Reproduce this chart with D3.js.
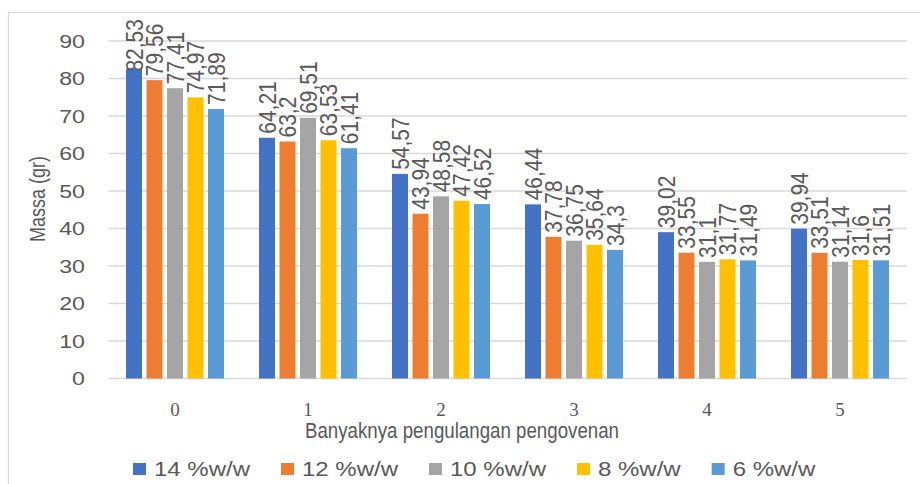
<!DOCTYPE html>
<html>
<head>
<meta charset="utf-8">
<script src="https://cdn.jsdelivr.net/npm/d3@7/dist/d3.min.js"></script>
<style>
  html, body { margin: 0; padding: 0; background: #fff; }
  svg { display: block; }
</style>
</head>
<body>
<svg id="chart" width="920" height="484"></svg>
<script>
// Categories: number of repeated oven cycles
const categories = ["0", "1", "2", "3", "4", "5"];
// Series: concentration
const seriesNames = ["14 %w/w", "12 %w/w", "10 %w/w", "8 %w/w", "6 %w/w"];
const seriesColors = ["#4472C4", "#ED7D31", "#A5A5A5", "#FFC000", "#5B9BD5"];
// Mass (gr) per series, one value per category
const s14 = [82.53, 64.21, 54.57, 46.44, 39.02, 39.94];
const s12 = [79.56, 63.2, 43.94, 37.78, 33.55, 33.51];
const s10 = [77.41, 69.51, 48.58, 36.75, 31.1, 31.14];
const s8  = [74.97, 63.53, 47.42, 35.64, 31.77, 31.6];
const s6  = [71.89, 61.41, 46.52, 34.3, 31.49, 31.51];
const seriesValues = [s14, s12, s10, s8, s6];
const yTicks = [0, 10, 20, 30, 40, 50, 60, 70, 80, 90];
const yTitle = "Massa (gr)";
const xTitle = "Banyaknya pengulangan pengovenan";

const TEXT = "#595959";
const GRID = "#D9D9D9";
const SANS = "'Liberation Sans', Arial, sans-serif";
const SERIF = "'Liberation Serif', 'Times New Roman', serif";

const svg = d3.select("#chart");

// chart area frame
svg.append("rect")
  .attr("x", 8.5).attr("y", 12.5)
  .attr("width", 940).attr("height", 500)
  .attr("fill", "none").attr("stroke", GRID).attr("stroke-width", 1.2);

const x = d3.scaleBand().domain(categories).range([108.5, 906.5]).padding(0);
const inner = d3.scaleBand().domain(seriesNames)
  .range([17.5, x.bandwidth() - 17.5]).paddingInner(0.22).paddingOuter(0);
const y = d3.scaleLinear().domain([0, 90]).range([378.5, 41]);

// gridlines
svg.append("g").selectAll("line").data(yTicks).join("line")
  .attr("x1", 108.5).attr("x2", 907)
  .attr("y1", d => y(d)).attr("y2", d => y(d))
  .attr("stroke", GRID).attr("stroke-width", 1.6);

// y tick labels
const ySX = 1.22;
svg.append("g").selectAll("g").data(yTicks).join("g")
  .attr("transform", d => `translate(85,${y(d)}) scale(${ySX},1)`)
  .append("text")
  .attr("text-anchor", "end").attr("dy", "0.36em")
  .attr("font-family", SANS).attr("font-size", 19).attr("fill", TEXT)
  .text(d => d);

// bars
const barData = [];
seriesValues.forEach((vals, si) => {
  vals.forEach((v, ci) => barData.push({ s: seriesNames[si], c: categories[ci], v, color: seriesColors[si] }));
});

svg.append("g").selectAll("rect").data(barData).join("rect")
  .attr("x", d => x(d.c) + inner(d.s))
  .attr("y", d => y(d.v))
  .attr("width", inner.bandwidth())
  .attr("height", d => y(0) - y(d.v))
  .attr("fill", d => d.color);

// rotated value labels above each bar
const fmt = v => String(v).replace(".", ",");
const labSX = 1.15, labFS = 21, minTop = 19;
const labG = svg.append("g");
barData.forEach(d => {
  const cx = x(d.c) + inner(d.s) + inner.bandwidth() / 2;
  const g = labG.append("g");
  const t = g.append("text")
    .attr("transform", "rotate(-90)")
    .attr("dy", "0.36em")
    .attr("font-family", SANS).attr("font-size", labFS).attr("fill", TEXT)
    .text(fmt(d.v));
  const len = t.node().getComputedTextLength();
  let start = y(d.v) - 4;
  if (start - len < minTop) start = minTop + len;
  g.attr("transform", `translate(${cx},${start}) scale(${labSX},1)`);
});

// x tick labels
svg.append("g").selectAll("text").data(categories).join("text")
  .attr("x", d => x(d) + x.bandwidth() / 2)
  .attr("y", 416)
  .attr("text-anchor", "middle")
  .attr("font-family", SERIF).attr("font-size", 19).attr("fill", TEXT)
  .text(d => d);

// axis titles
svg.append("text")
  .attr("x", 462).attr("y", 438)
  .attr("text-anchor", "middle")
  .attr("font-family", SANS).attr("font-size", 22).attr("fill", TEXT)
  .attr("textLength", 314).attr("lengthAdjust", "spacingAndGlyphs")
  .text(xTitle);

svg.append("g")
  .attr("transform", `translate(37,199) scale(1.18,1)`)
  .append("text")
  .attr("transform", "rotate(-90)")
  .attr("text-anchor", "middle").attr("dy", "0.36em")
  .attr("font-family", SANS).attr("font-size", 18).attr("fill", TEXT)
  .text(yTitle);

// legend
const legSX = 1.2;
const legend = svg.append("g");
let lx = 133;
seriesNames.forEach((name, i) => {
  legend.append("rect")
    .attr("x", lx).attr("y", 463).attr("width", 13).attr("height", 12)
    .attr("fill", seriesColors[i]);
  const g = legend.append("g").attr("transform", `translate(${lx + 21},476) scale(${legSX},1)`);
  const t = g.append("text")
    .attr("font-family", SANS).attr("font-size", 20).attr("fill", TEXT)
    .text(name);
  const w = t.node().getComputedTextLength() * legSX;
  lx += 21 + w + 31;
});
</script>
</body>
</html>
